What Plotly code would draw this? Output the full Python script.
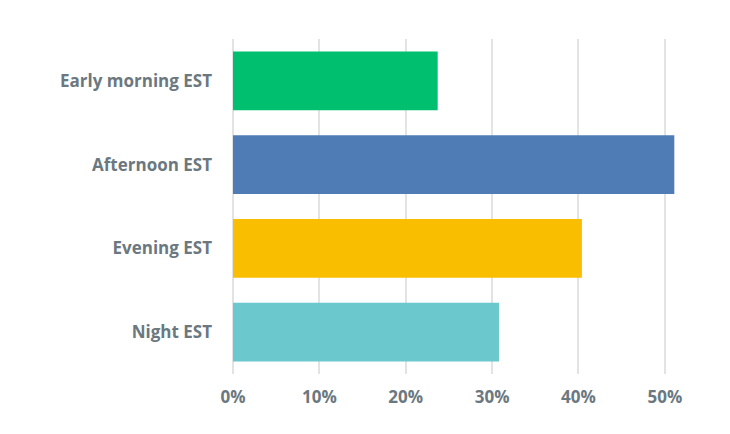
import plotly.graph_objects as go

# survey answer options, top to bottom
categories = ["Early morning EST", "Afternoon EST", "Evening EST", "Night EST"]
shares = [0.237, 0.511, 0.404, 0.308]
bar_colors = ["#00BF6F", "#507CB6", "#F9BE00", "#6BC8CD"]
tick_vals = [0, 0.1, 0.2, 0.3, 0.4, 0.5]

text_font = dict(family="Open Sans", size=17, color="#6B787F", weight=700)

fig = go.Figure()

fig.add_trace(
    go.Bar(
        x=shares,
        y=categories,
        orientation="h",
        marker=dict(color=bar_colors, line=dict(width=0)),
        hoverinfo="skip",
        showlegend=False,
    )
)

# page body adds 8px on top/left, margins account for it
fig.update_layout(
    width=730,
    height=434,
    margin=dict(l=225, r=30, t=31, b=68),
    plot_bgcolor="white",
    paper_bgcolor="white",
    bargap=0.3,
    font=text_font,
)

fig.update_xaxes(
    range=[0, 0.55],
    tickvals=tick_vals,
    tickformat=".0%",
    showgrid=True,
    gridcolor="#E3E3E3",
    gridwidth=1.5,
    zeroline=True,
    zerolinecolor="#E3E3E3",
    zerolinewidth=1.5,
    showline=False,
    ticklabelstandoff=11,
    tickfont=text_font,
)

fig.update_yaxes(
    categoryorder="array",
    categoryarray=categories[::-1],
    showgrid=False,
    showline=False,
    ticklabelstandoff=20,
    tickfont=text_font,
)

fig.write_html("out.html")
